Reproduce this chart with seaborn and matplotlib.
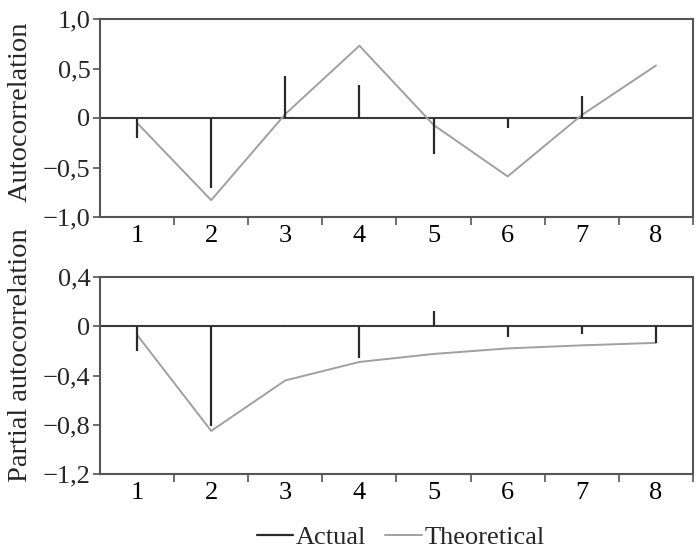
import numpy as np
import pandas as pd
import matplotlib
matplotlib.use("Agg")
import matplotlib.pyplot as plt
import seaborn as sns
from matplotlib.lines import Line2D
from matplotlib.ticker import FixedLocator, FuncFormatter

lags = [1, 2, 3, 4, 5, 6, 7, 8]
acf_actual = [-0.20, -0.71, 0.42, 0.33, -0.36, -0.10, 0.22, 0.0]
acf_theoretical = [-0.05, -0.83, 0.04, 0.73, -0.07, -0.59, 0.03, 0.53]
pacf_actual = [-0.20, -0.81, -0.01, -0.26, 0.12, -0.09, -0.06, -0.135]
pacf_theoretical = [-0.07, -0.85, -0.44, -0.29, -0.225, -0.18, -0.155, -0.135]
acf_yticks = [-1.0, -0.5, 0.0, 0.5, 1.0]
pacf_yticks = [-1.2, -0.8, -0.4, 0.0, 0.4]
ylabels = ["Autocorrelation", "Partial autocorrelation"]
legend_labels = ["Actual", "Theoretical"]

sns.set_theme(style="white")
plt.rcParams["font.family"] = ["Liberation Serif", "DejaVu Serif"]

FS = 19
FSL = 20.5
fig = plt.figure(figsize=(6.98, 5.51), dpi=100)
ax1 = fig.add_axes([100/698, 1-217/551, 593/698, 198/551])
ax2 = fig.add_axes([100/698, 1-474/551, 593/698, 197/551])

spine_c = "#555555"
actual_c = "#2a2a2a"
theo_c = "#a0a0a0"

def fmt(v, pos):
    if abs(v) < 1e-9:
        return "0"
    s = f"{abs(v):.1f}".replace(".", ",")
    return ("\u2212" if v < 0 else "") + s

panels = [
    (ax1, acf_actual, acf_theoretical, acf_yticks, (-1.0, 1.0), ylabels[0], 0.533),
    (ax2, pacf_actual, pacf_theoretical, pacf_yticks, (-1.2, 0.4), ylabels[1], 0.604),
]
for ax, act, theo, yt, yl, lab, ly in panels:
    df = pd.DataFrame({"lag": lags, "theo": theo})
    ax.axhline(0, color="#3a3a3a", lw=1.5, zorder=1)
    sns.lineplot(data=df, x="lag", y="theo", ax=ax, color=theo_c, lw=1.4, zorder=2)
    ax.vlines(lags, 0, act, color=actual_c, lw=1.6, zorder=3)
    ax.set_xlim(0.5, 8.5)
    ax.set_ylim(*yl)
    ax.set_xlabel("")
    ax.set_ylabel(lab, fontsize=FSL)
    ax.yaxis.set_label_coords(-0.113, ly)
    ax.xaxis.set_major_locator(FixedLocator(lags))
    ax.xaxis.set_minor_locator(FixedLocator([l + 0.5 for l in lags]))
    ax.set_yticks(yt)
    ax.yaxis.set_major_formatter(FuncFormatter(fmt))
    ax.tick_params(axis="x", which="major", length=0, labelsize=FS, pad=6, colors="black")
    ax.tick_params(axis="x", which="minor", length=6, width=1.2, direction="out", color=spine_c, bottom=True)
    ax.tick_params(axis="y", which="major", length=5, width=1.2, direction="out", color=spine_c, labelsize=FS, pad=2, left=True)
    for s in ax.spines.values():
        s.set_color(spine_c)
        s.set_linewidth(1.5)
    if ax.get_legend():
        ax.get_legend().remove()

handles = [Line2D([], [], color=actual_c, lw=1.6), Line2D([], [], color=theo_c, lw=1.4)]
fig.legend(handles, legend_labels, loc="center", bbox_to_anchor=(0.574, 0.025), ncol=2,
           frameon=False, fontsize=FS, handlelength=1.4, handletextpad=0.1, columnspacing=0.7)

fig.savefig("out.png", dpi=100)
